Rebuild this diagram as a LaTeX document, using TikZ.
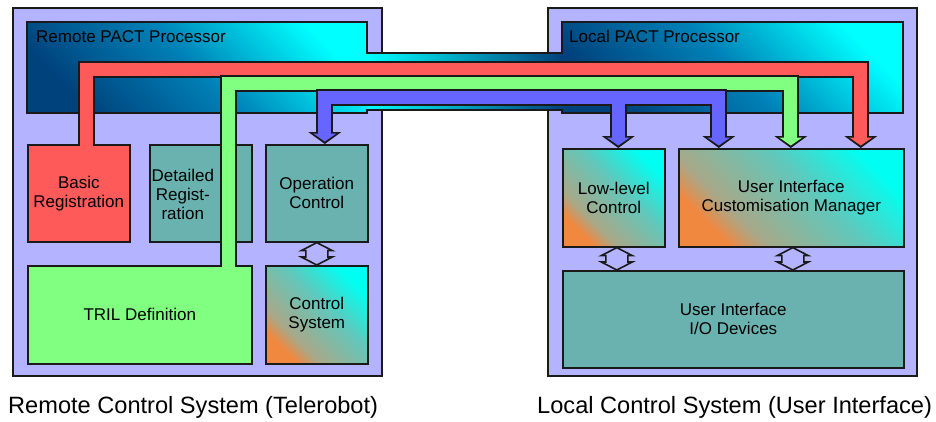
\documentclass[tikz,border=0pt]{standalone}
\usepackage{fontspec}
\setmainfont{Liberation Sans}
\usetikzlibrary{arrows.meta,calc}

\definecolor{lav}{HTML}{B3B3FF}
\definecolor{regred}{HTML}{FF5A5A}
\definecolor{tealbox}{HTML}{6AB2B0}
\definecolor{trilgreen}{HTML}{80FF80}
\definecolor{busblue}{HTML}{6666FF}
\definecolor{pdark}{HTML}{00427C}
\definecolor{pmid}{HTML}{0082B8}
\definecolor{pcyan}{HTML}{00FFFF}
\definecolor{gorange}{HTML}{F08840}
\definecolor{golive}{HTML}{A8A888}
\definecolor{gteal}{HTML}{60C8BC}
\definecolor{gcyan}{HTML}{00FFF2}
\definecolor{edge}{HTML}{1A1A1A}

\pgfdeclareverticalshading{mixedfade}{100bp}{color(0bp)=(gorange); color(26bp)=(gorange);
    color(34bp)=(golive); color(56bp)=(gteal); color(75bp)=(gcyan); color(100bp)=(gcyan)}

\def\pipew{17pt}
\def\pipec{13pt}
% hollow two-way link from the bottom of one unit to the top of the next
\def\hollowlink#1#2{\draw[hollow] (#1) -- ++(15.5,8) -- ++(-4.5,0) -- ++(0,6.4) -- ++(4.5,0) -- (#2)
    -- ++(-15.5,-8) -- ++(4.5,0) -- ++(0,-6.4) -- ++(-4.5,0) -- cycle;}

\tikzset{headout/.tip={Triangle[width=33pt,length=12pt,line width=0pt]},
         headin/.tip={Triangle[width=23pt,length=8pt,line width=0pt]}}

\begin{document}
\begin{tikzpicture}[x=1pt,y=-1pt,font=\fontsize{17}{19}\selectfont]
    \tikzstyle{system}=[draw=edge,line width=1.6pt,fill=lav]
    \tikzstyle{unit}=[draw=edge,line width=1.6pt,anchor=north west,inner sep=0pt,align=center]
    \tikzstyle{mixed}=[unit,shade,shading=mixedfade,shading angle=-45]
    \tikzstyle{processor}=[bottom color=pdark,top color=pcyan,middle color=pmid,shading angle=-45]
    \tikzstyle{pipe}=[edge,line width=\pipew,line join=miter]
    \tikzstyle{core}=[line width=\pipec,line join=miter]
    \tikzstyle{hollow}=[draw=edge,line width=1.6pt,fill=lav,line join=miter]
    \tikzstyle{caption}=[font=\fontsize{23.6}{28}\selectfont,anchor=base west,inner sep=0pt]

    \useasboundingbox (0,0) rectangle (936,421);

    % the two systems
    \draw[system] (13,8) rectangle (382,376);
    \draw[system] (548,8) rectangle (917,376);

    % PACT processors and the link between them
    \shade[processor] (27,22) rectangle (367,113);
    \shade[processor] (562,22) rectangle (903,113);
    \shade[left color=pcyan,right color=pdark] (367,53) rectangle (562,110);
    \draw[edge,line width=1.6pt] (27,22) -- (367,22) -- (367,53) -- (562,53) -- (562,22) -- (903,22)
        -- (903,113) -- (562,113) -- (562,110) -- (367,110) -- (367,113) -- (27,113) -- cycle;
    \node[anchor=base west,inner sep=0pt] (rpact) at (36,42) {Remote PACT Processor};
    \node[anchor=base west,inner sep=0pt] (lpact) at (569,42) {Local PACT Processor};

    % remote side
    \node[unit,fill=regred,minimum width=102pt,minimum height=97pt] (basic) at (27,144) {Basic\\Registration};
    \node[unit,fill=tealbox,minimum width=102pt,minimum height=97pt] (detreg) at (149,144) {};
    \node[align=center,inner sep=0pt] (detregtxt) at ([xshift=-18pt,yshift=-1.5pt]detreg.center) {Detailed\\Regist-\\ration};
    \node[unit,fill=tealbox,minimum width=102pt,minimum height=97pt] (opctrl) at (265,144) {Operation\\Control};
    \node[unit,fill=trilgreen,minimum width=224pt,minimum height=98pt] (tril) at (27,265) {TRIL Definition};
    \node[mixed,minimum width=102pt,minimum height=98pt] (ctrlsys) at (265,265) {Control\\System};

    % local side
    \node[mixed,minimum width=102pt,minimum height=98pt] (lowlevel) at (562,148) {Low-level\\Control};
    \node[mixed,minimum width=225pt,minimum height=98pt] (uicm) at (678,148) {User Interface\\Customisation Manager};
    \node[unit,fill=tealbox,minimum width=341pt,minimum height=97pt] (uiio) at (562,270) {User Interface\\I/O Devices};

    \coordinate (llfoot) at ([xshift=3pt]lowlevel.south);
    \coordinate (cmfoot) at ([xshift=1.5pt]uicm.south);
    \hollowlink{opctrl.south}{ctrlsys.north}
    \hollowlink{llfoot}{uiio.north -| llfoot}
    \hollowlink{cmfoot}{uiio.north -| cmfoot}

    % pipes
    \coordinate (redbus) at (0,69.5);
    \coordinate (greenbus) at (0,83.5);
    \coordinate (bluebus) at (0,97.5);
    \coordinate (redin) at ([xshift=8pt,yshift=-2pt]basic.north);
    \coordinate (redout) at ([xshift=69.5pt]uicm.north);
    \coordinate (greenin) at ([xshift=88.5pt,yshift=-2pt]tril.north);
    \coordinate (greenout) at ([xshift=-0.5pt]uicm.north);
    \coordinate (bluein) at ([xshift=8pt]opctrl.north);
    \coordinate (blueone) at ([xshift=4.5pt]lowlevel.north);
    \coordinate (bluetwo) at ([xshift=-72.5pt]uicm.north);

    \draw[pipe,-headout] (redin) -- (redin |- redbus) -- (redout |- redbus) -- (redout);
    \draw[core,regred,shorten >=2.5pt,-headin] (redin) -- (redin |- redbus) -- (redout |- redbus) -- (redout);

    \draw[pipe,-headout] (greenin) -- (greenin |- greenbus) -- (greenout |- greenbus) -- (greenout);
    \draw[core,trilgreen,shorten >=2.5pt,-headin] (greenin) -- (greenin |- greenbus) -- (greenout |- greenbus) -- (greenout);

    \draw[pipe,headout-headout] (bluein) -- (bluein |- bluebus) -- (bluetwo |- bluebus) -- (bluetwo);
    \draw[pipe,-headout] (blueone |- bluebus) -- (blueone);
    \draw[core,busblue,shorten <=2.5pt,shorten >=2.5pt,headin-headin] (bluein) -- (bluein |- bluebus) -- (bluetwo |- bluebus) -- (bluetwo);
    \draw[core,busblue,shorten >=2.5pt,-headin] (blueone |- bluebus) -- (blueone);

    \node[caption] (remote) at (8,413) {Remote Control System (Telerobot)};
    \node[caption] (local) at (537,413) {Local Control System (User Interface)};
\end{tikzpicture}
\end{document}
